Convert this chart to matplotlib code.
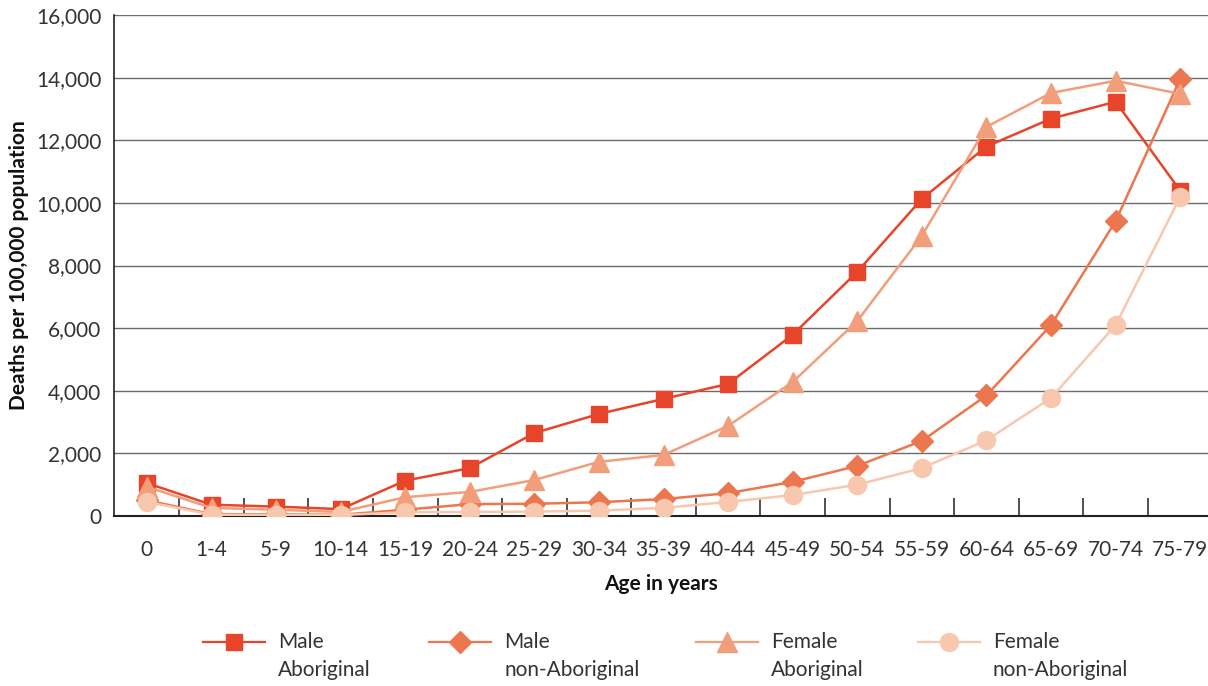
import matplotlib
matplotlib.use("Agg")
import matplotlib.pyplot as plt
from matplotlib.lines import Line2D
import numpy as np

plt.rcParams['font.family'] = ['Lato', 'DejaVu Sans']

age_groups = ["0", "1-4", "5-9", "10-14", "15-19", "20-24", "25-29", "30-34", "35-39",
              "40-44", "45-49", "50-54", "55-59", "60-64", "65-69", "70-74", "75-79"]

male_aboriginal = [1050, 360, 300, 220, 1130, 1530, 2650, 3260, 3740, 4220,
                   5790, 7800, 10130, 11800, 12690, 13230, 10390]
male_non_aboriginal = [500, 60, 50, 40, 200, 380, 390, 440, 540, 730,
                       1090, 1600, 2400, 3850, 6100, 9420, 13960]
female_aboriginal = [930, 260, 200, 130, 600, 770, 1150, 1730, 1950, 2880,
                     4280, 6230, 8950, 12430, 13510, 13900, 13480]
female_non_aboriginal = [450, 40, 30, 30, 120, 130, 140, 170, 260, 450,
                         670, 1000, 1530, 2420, 3770, 6100, 10190]

series = [
    (("Male", "Aboriginal"), male_aboriginal, "#E8442A", "s", 12),
    (("Male", "non-Aboriginal"), male_non_aboriginal, "#EC764E", "D", 11),
    (("Female", "Aboriginal"), female_aboriginal, "#F29E7A", "^", 14),
    (("Female", "non-Aboriginal"), female_non_aboriginal, "#F8C8AE", "o", 13),
]

W, H = 1208, 686
fig = plt.figure(figsize=(W/100, H/100), dpi=100)
ax = fig.add_axes([114/W, 1-516/H, 1-114/W, (516-15)/H])

x = np.arange(len(age_groups))
for label, vals, color, marker, ms in series:
    ax.plot(x, vals, color=color, marker=marker, markersize=ms, linewidth=1.8, zorder=3)

# grid lines
ax.set_ylim(0, 16000)
ax.set_yticks(np.arange(0, 16001, 2000))
ax.set_yticklabels([f"{v:,}" for v in range(0, 16001, 2000)])
for v in range(2000, 16001, 2000):
    ax.axhline(v, color="#6b6b6b", linewidth=1.0, zorder=1)

ax.set_xlim(-0.51, 16.43)
ax.set_xticks(x)
ax.set_xticklabels(age_groups)
ax.set_xticks(np.arange(0.5, 16, 1), minor=True)
ax.tick_params(axis="x", which="major", length=0, pad=17, labelsize=15, labelcolor="#333333")
ax.tick_params(axis="x", which="minor", direction="in", length=13, width=1.2, color="#333333")
ax.tick_params(axis="y", length=0, pad=9, labelsize=15, labelcolor="#333333")

for s in ["top", "right"]:
    ax.spines[s].set_visible(False)
ax.spines["left"].set_color("#222222")
ax.spines["bottom"].set_color("#222222")
ax.spines["left"].set_linewidth(1.2)
ax.spines["bottom"].set_linewidth(1.5)

ax.set_ylabel("Deaths per 100,000 population", fontsize=15, fontweight="bold",
              labelpad=5, color="#111111")
ax.set_xlabel("Age in years", fontsize=15, fontweight="bold", labelpad=10, color="#111111")

# legend drawn by hand so the key sits beside the first line of text
legend_x = [203, 429, 696, 918]
key_y = 642
for (lines, vals, color, marker, ms), lx in zip(series, legend_x):
    fig.add_artist(Line2D([lx/W, (lx+62)/W], [1-key_y/H]*2, color=color, linewidth=1.6,
                          transform=fig.transFigure))
    fig.add_artist(Line2D([(lx+31)/W], [1-key_y/H], color=color, marker=marker,
                          markersize=ms, linestyle="none", transform=fig.transFigure))
    for i, t in enumerate(lines):
        fig.text((lx+75)/W, 1-(key_y+28*i)/H, t, fontsize=15, color="#333333",
                 ha="left", va="center")

fig.savefig("out.png", dpi=100)
